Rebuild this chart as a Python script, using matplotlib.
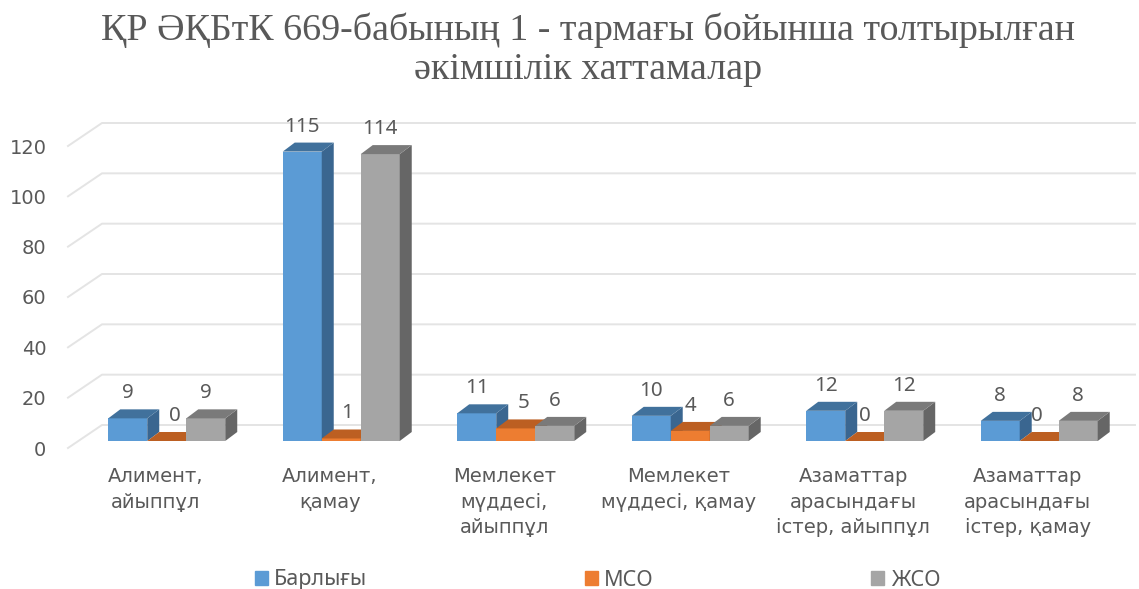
import matplotlib
import matplotlib.pyplot as plt
from matplotlib.patches import Patch, Polygon

matplotlib.use('agg')

categories = ["Алимент,\nайыппұл", "Алимент,\nқамау", "Мемлекет\nмүддесі,\nайыппұл",
	"Мемлекет\nмүддесі, қамау", "Азаматтар\nарасындағы\nістер, айыппұл", "Азаматтар\nарасындағы\nістер, қамау"]
barlygy = [9, 115, 11, 10, 12, 8]
mso = [0, 1, 5, 4, 0, 0]
zhso = [9, 114, 6, 6, 12, 8]
series_names = ["Барлығы", "МСО", "ЖСО"]
y_ticks = [0, 20, 40, 60, 80, 100, 120]
title = "ҚР ӘҚБтК 669-бабының 1 - тармағы бойынша толтырылған\nәкімшілік хаттамалар"

# front, side, top
colors = [("#5B9BD5", "#3A6690", "#41719C"), ("#ED7D31", "#A9561F", "#BC5F22"), ("#A5A5A5", "#666666", "#7A7A7A")]
mso_label_nudge = [8, 6, 8, 0, 0, -2]

W, H = 1139, 589
TEXT = "#595959"
PX_X = 1 / 174.5
PX_Y = 120 / 302

fig = plt.figure(figsize=(W / 100, H / 100), dpi=100)
ax = fig.add_axes([68 / W, (H - 448) / H, (1101 - 68) / W, 302 / H])
plt.rcParams['font.family'] = ['Noto Sans', 'DejaVu Sans']

xmin, xmax = -0.5, 5.42
ax.set_xlim(xmin, xmax)
ax.set_ylim(0, 120)
for s in ax.spines.values():
	s.set_visible(False)

# walls
wall_dx, wall_dy = 34 * PX_X, 23 * PX_Y
for t in y_ticks:
	ax.plot([xmin, xmin + wall_dx, xmax + wall_dx], [t, t + wall_dy, t + wall_dy],
		color="#E4E4E4", lw=1.4, clip_on=False, zorder=1)

# bars
bar_w = 39 * PX_X
shift = 11.5 * PX_X - 1.5 * bar_w
lift = 7 * PX_Y
dx, dy = 12 * PX_X, 9 * PX_Y

for i in range(len(categories)):
	for j, vals in enumerate([barlygy, mso, zhso]):
		front, side, top = colors[j]
		x0 = i + shift + j * bar_w
		x1 = x0 + bar_w
		y0 = lift
		y1 = lift + vals[i]
		z = 3 + i + j * 0.1
		ax.bar(x0, vals[i], bar_w, bottom=lift, align='edge', color=front, zorder=z, clip_on=False)
		ax.add_patch(Polygon([(x1, y0), (x1 + dx, y0 + dy), (x1 + dx, y1 + dy), (x1, y1)],
			color=side, lw=0, zorder=z, clip_on=False))
		ax.add_patch(Polygon([(x0, y1), (x1, y1), (x1 + dx, y1 + dy), (x0 + dx, y1 + dy)],
			color=top, lw=0, zorder=z, clip_on=False))
		nudge = mso_label_nudge[i] * PX_X if j == 1 else 0
		ax.text((x0 + x1) / 2 + nudge, y1 + 25 * PX_Y, str(vals[i]), ha='center', va='center',
			fontsize=14.8, color=TEXT, zorder=20)

ax.set_yticks(y_ticks)
ax.set_xticks(range(len(categories)))
ax.set_xticklabels(categories, linespacing=1.42)
ax.tick_params(axis='y', length=0, pad=15.5, labelsize=14, labelcolor=TEXT)
ax.tick_params(axis='x', length=0, pad=14, labelsize=14, labelcolor=TEXT)

handles = [Patch(color=c[0]) for c in colors]
fig.legend(handles, series_names, loc='center', bbox_to_anchor=(597.5 / W, (H - 580) / H), ncol=3,
	frameon=False, fontsize=15.5, labelcolor=TEXT, handlelength=0.6, handleheight=0.6,
	handletextpad=0.3, columnspacing=10.1)

fig.text(588 / W, (H - 50) / H, title, ha='center', va='center', family='Liberation Serif',
	fontsize=27.4, color=TEXT, linespacing=1.18)

fig.savefig('out.png', dpi=100, facecolor='white')
